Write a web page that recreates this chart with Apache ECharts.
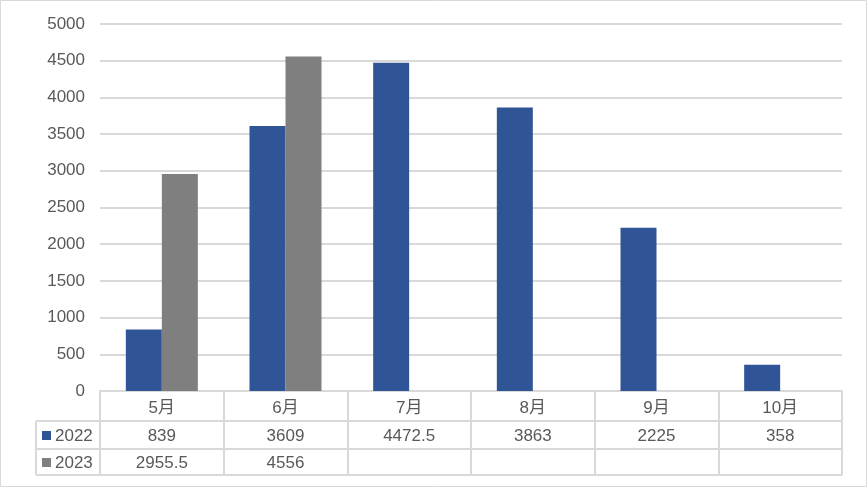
<!DOCTYPE html>
<html><head><meta charset="utf-8">
<script src="https://cdn.jsdelivr.net/npm/echarts@6/dist/echarts.min.js"></script>
<style>html,body{margin:0;padding:0;background:#fff}#c{width:867px;height:487px}</style>
</head><body><div id="c"></div>
<script>
const categories = ['5月','6月','7月','8月','9月','10月'];
const seriesNames = ['2022','2023'];
const s2022 = [839, 3609, 4472.5, 3863, 2225, 358];
const s2023 = [2955.5, 4556, null, null, null, null];
const yTicks = [0,500,1000,1500,2000,2500,3000,3500,4000,4500,5000];

const FONT = '"Liberation Sans", "Noto Sans CJK SC", sans-serif';
const FS = 17;
const TXT = '#595959';
const LINE = '#d9d9d9';
const colors = ['#2F5597','#7F7F7F'];
const fmt = v => (v === null || v === undefined) ? '' : String(v);

const chart = echarts.init(document.getElementById('c'));
const gridL = 100, gridR = 842, gridT = 24, gridB = 391;
const rowY = [421, 449, 475];

const hidden = {show:false};
function valueAxis(data, margin){
  return {
    type:'category', data:categories, position:'bottom', gridIndex:0,
    axisLine:hidden, axisTick:hidden, splitLine:hidden,
    axisLabel:{interval:0, margin:margin, verticalAlign:'middle', color:TXT, fontSize:FS, fontFamily:FONT,
      formatter:(v,i)=>fmt(data[i])}
  };
}

const graphics = [
  {type:'rect', shape:{x:0.5,y:0.5,width:866,height:486}, style:{fill:'none', stroke:LINE, lineWidth:1}, silent:true},
];
rowY.forEach(y=>graphics.push({type:'line', shape:{x1:36,y1:y,x2:gridR,y2:y}, style:{stroke:LINE, lineWidth:2}, silent:true}));
graphics.push({type:'line', shape:{x1:36,y1:rowY[0],x2:36,y2:rowY[2]}, style:{stroke:LINE, lineWidth:2}, silent:true});
const legendRowsY = [435, 462];
seriesNames.forEach((n,i)=>{
  graphics.push({type:'rect', shape:{x:42,y:legendRowsY[i]-4,width:9,height:9}, style:{fill:colors[i]}, silent:true});
  graphics.push({type:'text', x:55, y:legendRowsY[i]+1, style:{text:n, fill:TXT, font:FS+'px '+FONT, textVerticalAlign:'middle'}, silent:true});
});

chart.setOption({
  animation:false,
  grid:{left:gridL, right:867-gridR, top:gridT, bottom:487-gridB, containLabel:false},
  xAxis:[
    {type:'category', data:categories, position:'bottom',
     axisLine:{show:true, lineStyle:{color:LINE, width:2}},
     axisTick:{show:true, length:84, interval:0, lineStyle:{color:LINE, width:2}},
     axisLabel:{interval:0, margin:17, verticalAlign:'middle', color:TXT, fontSize:FS, fontFamily:FONT}},
    valueAxis(s2022, 45),
    valueAxis(s2023, 72)
  ],
  yAxis:{type:'value', min:yTicks[0], max:yTicks[yTicks.length-1], interval:500,
    axisLine:hidden, axisTick:hidden,
    splitLine:{lineStyle:{color:LINE, width:2}},
    axisLabel:{margin:15, color:TXT, fontSize:FS, fontFamily:FONT, formatter:v=>String(v)}},
  series:[
    {name:seriesNames[0], type:'bar', data:s2022, xAxisIndex:0, barWidth:36, barGap:'0%', itemStyle:{color:colors[0]}},
    {name:seriesNames[1], type:'bar', data:s2023, xAxisIndex:0, barWidth:36, barGap:'0%', itemStyle:{color:colors[1]}}
  ],
  graphic:graphics
});
</script></body></html>
